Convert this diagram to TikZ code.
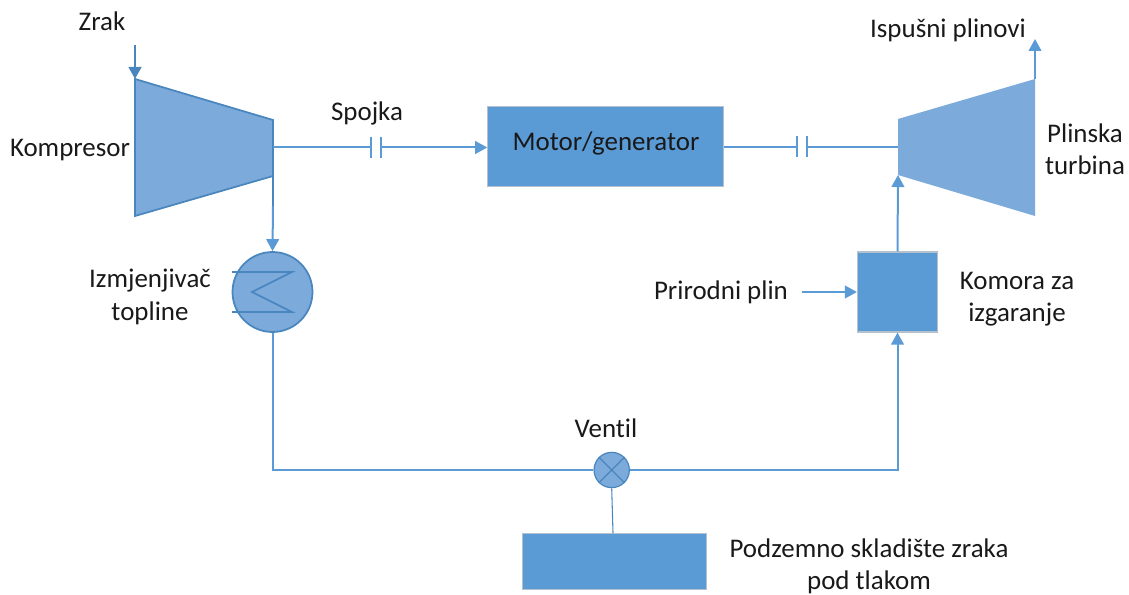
\documentclass[tikz,border=0pt]{standalone}
\usepackage{fontspec}
\setmainfont[Ligatures=NoCommon]{Carlito}
\usetikzlibrary{arrows.meta,calc}
\definecolor{boxblue}{HTML}{5B9BD5}
\definecolor{softblue}{HTML}{7CAADB}
\definecolor{darkline}{HTML}{4A86BE}
\definecolor{edgegrey}{HTML}{B4C0CC}
\tikzset{
  label text/.style={font=\fontsize{20.2}{24.2}\selectfont, text=black!90, inner sep=0pt, align=center},
  blockbox/.style={fill=boxblue, draw=edgegrey, line width=0.9pt, inner sep=0pt},
  pipe/.style={draw=boxblue, line width=1.5pt},
  pipedark/.style={draw=darkline, line width=1.7pt},
  flow/.style={-{Triangle[length=9pt,width=9.5pt]}},
  machine/.style={fill=softblue, draw=darkline, line width=1.3pt, line join=miter},
  thinmark/.style={draw=darkline, line width=0.9pt},
}
\begin{document}
\begin{tikzpicture}[x=0.75pt,y=-0.75pt]
\useasboundingbox (0,0) rectangle (1129,595);
% free ends
\coordinate (airIn) at (135,45);
\coordinate (exhaustEnd) at (1035,39);
\coordinate (gasIn) at (802,292);
% compressor
\coordinate (c1) at (135,79);
\coordinate (c2) at (273,120);
\coordinate (c3) at (273,176);
\coordinate (c4) at (135,216);
\coordinate (cOut) at (273,147.5);
\path[machine] (c1) -- (c2) -- (c3) -- (c4) -- cycle;
% turbine
\coordinate (t1) at (898,119);
\coordinate (t2) at (1035,79);
\coordinate (t3) at (1035,216);
\coordinate (t4) at (898,175);
\coordinate (tIn) at (898,147);
\path[fill=softblue] (t1) -- (t2) -- (t3) -- (t4) -- cycle;
% blocks
\node[blockbox, minimum width=176.5pt, minimum height=60pt] (motor) at (605.5,146.5) {};
\node[blockbox, minimum width=60pt, minimum height=60pt] (chamber) at (897.5,292) {};
\node[blockbox, minimum width=138pt, minimum height=41.5pt] (store) at (614.5,561.5) {};
\coordinate (storeTop) at (613,533);
% exchanger
\node[machine, circle, minimum size=60pt, inner sep=0pt] (hx) at (272.5,292) {};
\coordinate (z1) at (232,272);
\coordinate (z2) at (292,272);
\coordinate (z3) at (252,292);
\coordinate (z4) at (292,312);
\coordinate (z5) at (232,312);
\draw[draw=darkline, line width=1.3pt, line join=miter] (z1) -- (z2) -- (z3) -- (z4) -- (z5);
% valve
\node[machine, circle, minimum size=26.5pt, inner sep=0pt, line width=0.9pt] (valve) at (611.7,470) {};
\draw[thinmark] (valve.north west) -- (valve.south east);
\draw[thinmark] (valve.north east) -- (valve.south west);
% clutches
\coordinate (p1) at (370.5,147.5);
\coordinate (p2) at (380.5,147.5);
\coordinate (q1) at (797,147);
\coordinate (q2) at (807,147);
\foreach \p in {p1,p2,q1,q2}
  \draw[pipe] ($(\p)+(0,-10.5)$) -- ($(\p)+(0,10.5)$);
% connectors
\draw[pipedark, flow] (airIn) -- (c1);
\draw[pipe] (cOut) -- (p1);
\draw[pipe, flow] (p2) -- (motor.west |- p2);
\draw[pipe] (motor.east |- q1) -- (q1);
\draw[pipe] (q2) -- (tIn);
\draw[pipedark] (c3) -- ++(0,30) coordinate (c5);
\draw[pipe, flow] (c5) -- (hx.north);
\draw[pipe] (hx.south) |- (valve.west);
\draw[pipe, flow] (valve.east) -| (chamber.south);
\draw[pipe, flow] (chamber.north) -- (t4);
\draw[pipe, flow] (gasIn) -- (chamber.west |- gasIn);
\draw[pipe, flow] (t2) -- (exhaustEnd);
\draw[draw=darkline, line width=0.8pt] (valve.south) -- (storeTop);
% labels
\node[label text] (lz) at (102,21) {Zrak};
\node[label text] (lk) at (70,150) {Kompresor};
\node[label text] (ls) at (367,113) {Spojka};
\node[label text] (lm) at (606,143) {Motor/generator};
\node[label text] (li) at (948,30) {Ispušni plinovi};
\node[label text] (lp) at (1085,149) {Plinska\\turbina};
\node[label text] (lh) at (150,297) {Izmjenjivač\\topline};
\node[label text] (lg) at (721,292) {Prirodni plin};
\node[label text] (lc) at (1017,299) {Komora za\\izgaranje};
\node[label text] (lv) at (606,428) {Ventil};
\node[label text] (lu) at (869,566) {Podzemno skladište zraka\\pod tlakom};
\end{tikzpicture}
\end{document}
